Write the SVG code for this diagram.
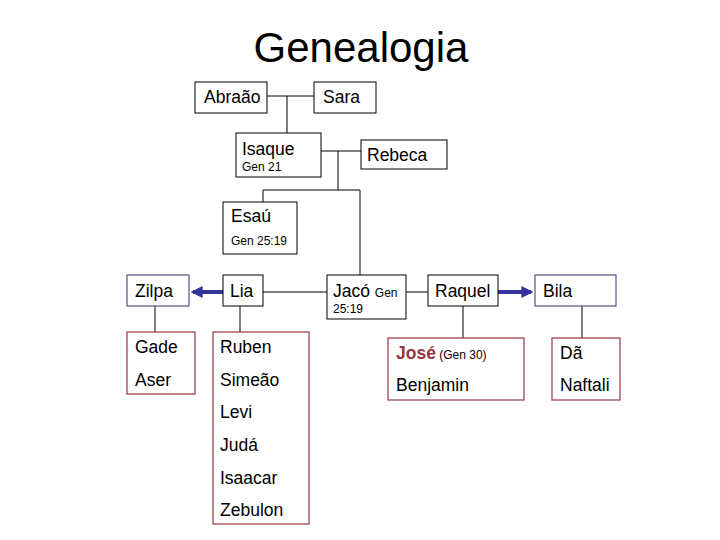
<svg xmlns="http://www.w3.org/2000/svg" width="720" height="540" viewBox="0 0 720 540">
<defs>
<style>
.box{fill:#fff;stroke:#000;stroke-width:1}
.nb{fill:#fff;stroke:#333366;stroke-width:1}
.rb{fill:#fff;stroke:#993344;stroke-width:1.2}
.t{font-family:"Liberation Sans",Arial,sans-serif;font-size:17.5px;fill:#000}
.s{font-family:"Liberation Sans",Arial,sans-serif;font-size:12px;fill:#000}
.ln{fill:none;stroke:#000;stroke-width:1}
.ar{fill:none;stroke:#333399;stroke-width:4;marker-end:url(#ah)}
</style>
<marker id="ah" viewBox="0 0 10 10" refX="8" refY="5" markerWidth="3" markerHeight="3" orient="auto" markerUnits="strokeWidth">
<path d="M0,0 L10,5 L0,10 z" fill="#333399"/>
</marker>
</defs>
<rect width="720" height="540" fill="#fff"/>
<text x="361" y="62" text-anchor="middle" font-family="'Liberation Sans',Arial,sans-serif" font-size="42">Genealogia</text>
<g id="connectors">
<path class="ln" d="M267,96 H314 M287,96 V133"/>
<path class="ln" d="M321,151 H361 M338,151 V190 M263,190 H360 M263,190 V202 M360,190 V275"/>
<path class="ln" d="M263,292 H327 M406,292 H428"/>
<path class="ln" d="M155,306 V332 M240,306 V332 M463,306 V338 M582,306 V338"/>
<path class="ar" d="M223,292 H193"/>
<path class="ar" d="M498,292 H531"/>
</g>
<g id="abraao"><rect class="box" x="195" y="82" width="72" height="31"/><text class="t" x="204" y="103">Abraão</text></g>
<g id="sara"><rect class="box" x="314" y="82" width="62" height="31"/><text class="t" x="323" y="103">Sara</text></g>
<g id="isaque"><rect class="box" x="236" y="133" width="85" height="44"/><text class="t" x="242" y="155">Isaque</text><text class="s" x="242" y="171">Gen 21</text></g>
<g id="rebeca"><rect class="box" x="361" y="140" width="86" height="29"/><text class="t" x="367" y="161">Rebeca</text></g>
<g id="esau"><rect class="box" x="223" y="202" width="74" height="52"/><text class="t" x="231" y="222">Esaú</text><text class="s" x="231" y="245">Gen 25:19</text></g>
<g id="zilpa"><rect class="nb" x="127" y="275" width="62" height="31"/><text class="t" x="135" y="297">Zilpa</text></g>
<g id="lia"><rect class="box" x="223" y="275" width="40" height="31"/><text class="t" x="230" y="297">Lia</text></g>
<g id="jaco"><rect class="box" x="327" y="275" width="79" height="44"/><text x="333" y="297"><tspan class="t">Jacó </tspan><tspan class="s">Gen</tspan></text><text class="s" x="333" y="313">25:19</text></g>
<g id="raquel"><rect class="box" x="428" y="275" width="70" height="31"/><text class="t" x="435" y="297">Raquel</text></g>
<g id="bila"><rect class="nb" x="535" y="275" width="81" height="31"/><text class="t" x="543" y="297">Bila</text></g>
<g id="gade-aser"><rect class="rb" x="127" y="332" width="68" height="62"/><text class="t" x="135" y="353">Gade</text><text class="t" x="135" y="386">Aser</text></g>
<g id="filhos-lia"><rect class="rb" x="213" y="332" width="96" height="192"/><text class="t" x="220" y="353">Ruben</text><text class="t" x="220" y="386">Simeão</text><text class="t" x="220" y="418">Levi</text><text class="t" x="220" y="451">Judá</text><text class="t" x="220" y="484">Isaacar</text><text class="t" x="220" y="516">Zebulon</text></g>
<g id="filhos-raquel"><rect class="rb" x="388" y="338" width="136" height="62"/><text x="396" y="359"><tspan class="t" font-weight="bold" fill="#993344" style="fill:#993344">José</tspan><tspan class="s"> (Gen 30)</tspan></text><text class="t" x="396" y="391">Benjamin</text></g>
<g id="filhos-bila"><rect class="rb" x="552" y="338" width="68" height="62"/><text class="t" x="560" y="359">Dã</text><text class="t" x="560" y="391">Naftali</text></g>
</svg>
